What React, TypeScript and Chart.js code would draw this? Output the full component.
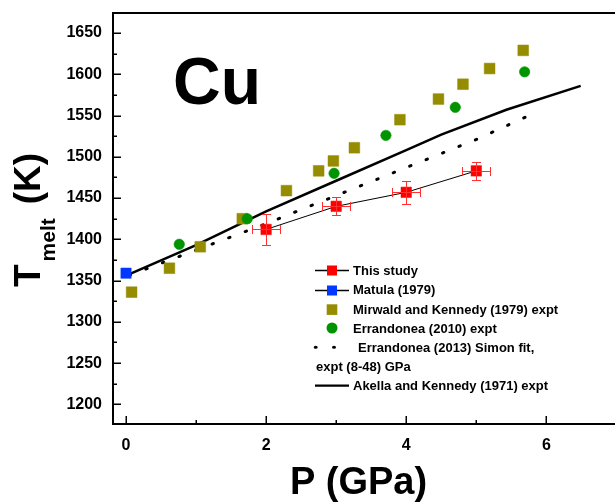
import React, { useEffect, useRef } from 'react';
import { Chart, registerables } from 'chart.js';

Chart.register(...registerables);

// ---------- data ----------
const thisStudyP = [2, 3, 4, 5];
const thisStudyT = [1412, 1440, 1457, 1483];
const thisStudyPErr = [0.2, 0.2, 0.2, 0.2];
const thisStudyTErr = [19, 11, 14, 11];

const matulaP = [0];
const matulaT = [1359];

const mirwaldP = [0.08, 0.62, 1.06, 1.66, 2.29, 2.75, 2.96, 3.26, 3.91, 4.46, 4.81, 5.19, 5.67];
const mirwaldT = [1336, 1365, 1391, 1425, 1459, 1483, 1495, 1511, 1545, 1570, 1588, 1607, 1629];

const errandonea2010P = [0.76, 1.73, 2.97, 3.71, 4.7, 5.69];
const errandonea2010T = [1394, 1425, 1480, 1526, 1560, 1603];

const simonP = [0, 1, 2, 3, 4, 5, 5.7];
const simonT = [1355, 1387, 1419, 1453, 1487, 1521, 1548];

const akellaP = [0, 1, 2, 3, 4, 4.5, 5.43, 6.49];
const akellaT = [1356, 1393, 1434, 1471, 1508, 1527, 1557, 1586];

const xMajorTicks = [0, 2, 4, 6];
const xMinorTicks = [1, 3, 5];
const yMajorTicks = [1200, 1250, 1300, 1350, 1400, 1450, 1500, 1550, 1600, 1650];
const yMinorTicks = [1225, 1275, 1325, 1375, 1425, 1475, 1525, 1575, 1625];

const legendLabels = [
  'This study',
  'Matula (1979)',
  'Mirwald and Kennedy (1979) expt',
  'Errandonea (2010) expt',
  'Errandonea (2013) Simon fit,',
  'Akella and Kennedy (1971) expt',
];
const legendSecondLine = 'expt (8-48) GPa';
const annotationText = 'Cu';
const xTitle = 'P (GPa)';

const RED = '#FF0000';
const ERR_RED = '#FF3030';
const BLUE = '#0038FF';
const OLIVE = '#968C00';
const GREEN = '#009400';
const FONT = '"Liberation Sans", Arial, Helvetica, sans-serif';

const pts = (xs: number[], ys: number[]) => xs.map((x, i) => ({ x, y: ys[i] }));

const zeroPad = (scale: any) => {
  scale.paddingTop = 0;
  scale.paddingBottom = 0;
  scale.paddingLeft = 0;
  scale.paddingRight = 0;
};

const decorPlugin = {
  id: 'decor',
  afterDatasetsDraw(chart: any) {
    const ctx = chart.ctx as CanvasRenderingContext2D;
    const xs = chart.scales.x;
    const ys = chart.scales.y;
    // error bars for "This study"
    ctx.save();
    ctx.strokeStyle = ERR_RED;
    ctx.lineWidth = 1;
    thisStudyP.forEach((p, i) => {
      const cx = Math.round(xs.getPixelForValue(p)) + 0.5;
      const cy = Math.round(ys.getPixelForValue(thisStudyT[i])) + 0.5;
      const yTop = Math.round(ys.getPixelForValue(thisStudyT[i] + thisStudyTErr[i])) + 0.5;
      const yBot = Math.round(ys.getPixelForValue(thisStudyT[i] - thisStudyTErr[i])) + 0.5;
      const xL = Math.round(xs.getPixelForValue(p - thisStudyPErr[i])) + 0.5;
      const xR = Math.round(xs.getPixelForValue(p + thisStudyPErr[i])) + 0.5;
      ctx.beginPath();
      ctx.moveTo(cx, yTop);
      ctx.lineTo(cx, yBot);
      ctx.moveTo(cx - 4.5, yTop);
      ctx.lineTo(cx + 4.5, yTop);
      ctx.moveTo(cx - 4.5, yBot);
      ctx.lineTo(cx + 4.5, yBot);
      ctx.moveTo(xL, cy);
      ctx.lineTo(xR, cy);
      ctx.moveTo(xL, cy - 4.5);
      ctx.lineTo(xL, cy + 4.5);
      ctx.moveTo(xR, cy - 4.5);
      ctx.lineTo(xR, cy + 4.5);
      ctx.stroke();
    });
    ctx.restore();
  },
  afterDraw(chart: any) {
    const ctx = chart.ctx as CanvasRenderingContext2D;
    const a = chart.chartArea;
    const xs = chart.scales.x;
    const ys = chart.scales.y;
    ctx.save();
    // axes frame
    ctx.strokeStyle = '#000';
    ctx.lineWidth = 2;
    ctx.beginPath();
    ctx.moveTo(a.left + 1, a.top);
    ctx.lineTo(a.left + 1, a.bottom);
    ctx.moveTo(a.left, a.bottom - 1);
    ctx.lineTo(a.right, a.bottom - 1);
    ctx.moveTo(a.left, a.top + 1);
    ctx.lineTo(a.right, a.top + 1);
    ctx.stroke();
    // inward ticks
    ctx.lineWidth = 1.5;
    ctx.beginPath();
    xMajorTicks.forEach((v) => {
      const px = Math.round(xs.getPixelForValue(v)) + 0.25;
      ctx.moveTo(px, a.bottom - 1);
      ctx.lineTo(px, a.bottom - 9);
    });
    xMinorTicks.forEach((v) => {
      const px = Math.round(xs.getPixelForValue(v)) + 0.25;
      ctx.moveTo(px, a.bottom - 1);
      ctx.lineTo(px, a.bottom - 5);
    });
    yMajorTicks.forEach((v) => {
      const py = Math.round(ys.getPixelForValue(v)) + 0.25;
      ctx.moveTo(a.left + 1, py);
      ctx.lineTo(a.left + 9, py);
    });
    yMinorTicks.forEach((v) => {
      const py = Math.round(ys.getPixelForValue(v)) + 0.25;
      ctx.moveTo(a.left + 1, py);
      ctx.lineTo(a.left + 5, py);
    });
    ctx.stroke();

    // y title: T_melt (K)
    ctx.fillStyle = '#000';
    ctx.save();
    ctx.translate(40, 287);
    ctx.rotate(-Math.PI / 2);
    ctx.textBaseline = 'alphabetic';
    ctx.textAlign = 'left';
    ctx.font = `bold 37px ${FONT}`;
    ctx.fillText('T', 0, 0);
    const wT = ctx.measureText('T').width;
    ctx.font = `bold 21px ${FONT}`;
    ctx.fillText('melt', wT + 3, 15);
    const wM = ctx.measureText('melt').width;
    ctx.font = `bold 37px ${FONT}`;
    ctx.fillText('(K)', wT + 3 + wM + 14, 0);
    ctx.restore();

    // x title
    ctx.font = `bold 38px ${FONT}`;
    ctx.textAlign = 'center';
    ctx.textBaseline = 'alphabetic';
    ctx.fillText(xTitle, 358.5, 494);

    // Cu annotation
    ctx.font = `bold 66px ${FONT}`;
    ctx.textAlign = 'left';
    ctx.fillText(annotationText, 173, 104);

    // legend
    const baselines = [275, 294.3, 314.3, 332.7, 352, 371.3, 390.3];
    const symX = 332;
    ctx.font = `bold 13px ${FONT}`;
    ctx.textAlign = 'left';
    ctx.fillStyle = '#000';
    ctx.fillText(legendLabels[0], 353, baselines[0]);
    ctx.fillText(legendLabels[1], 353, baselines[1]);
    ctx.fillText(legendLabels[2], 353, baselines[2]);
    ctx.fillText(legendLabels[3], 353, baselines[3]);
    ctx.fillText(legendLabels[4], 358, baselines[4]);
    ctx.fillText(legendSecondLine, 316, baselines[5]);
    ctx.fillText(legendLabels[5], 353, baselines[6]);

    const cyOf = (i: number) => baselines[i] - 4.7;
    // this study & matula: line + square
    [RED, BLUE].forEach((col, i) => {
      const cy = Math.round(cyOf(i)) + 0.5;
      ctx.strokeStyle = '#000';
      ctx.lineWidth = 1.3;
      ctx.beginPath();
      ctx.moveTo(315, cy);
      ctx.lineTo(349, cy);
      ctx.stroke();
      ctx.fillStyle = col;
      ctx.fillRect(symX - 5, cy - 5, 10, 10);
    });
    // olive square
    ctx.fillStyle = OLIVE;
    ctx.fillRect(symX - 5.3, cyOf(2) - 5.3, 10.6, 10.6);
    // green circle
    ctx.fillStyle = GREEN;
    ctx.beginPath();
    ctx.arc(symX, cyOf(3), 5.5, 0, Math.PI * 2);
    ctx.fill();
    // dashes
    ctx.fillStyle = '#000';
    ctx.beginPath();
    ctx.ellipse(315.7, cyOf(4), 2, 1.5, 0, 0, Math.PI * 2);
    ctx.ellipse(334, cyOf(4), 2, 1.5, 0, 0, Math.PI * 2);
    ctx.fill();
    // solid line
    ctx.strokeStyle = '#000';
    ctx.lineWidth = 2.3;
    ctx.beginPath();
    ctx.moveTo(315, cyOf(6));
    ctx.lineTo(349, cyOf(6));
    ctx.stroke();
    ctx.restore();
  },
};

export default function App() {
  const ref = useRef<HTMLCanvasElement>(null);
  useEffect(() => {
    if (!ref.current) return;
    const tickFont = { family: FONT, size: 16, weight: 'bold' as const };
    const chart = new Chart(ref.current, {
      type: 'scatter',
      data: {
        datasets: [
          {
            label: legendLabels[0],
            data: pts(thisStudyP, thisStudyT),
            showLine: true,
            borderColor: '#000',
            borderWidth: 1,
            pointStyle: 'rect',
            pointRadius: 7.4,
            pointBackgroundColor: RED,
            pointBorderColor: RED,
            pointBorderWidth: 0.5,
          },
          {
            label: legendLabels[1],
            data: pts(matulaP, matulaT),
            showLine: false,
            pointStyle: 'rect',
            pointRadius: 7.3,
            pointBackgroundColor: BLUE,
            pointBorderColor: BLUE,
            pointBorderWidth: 0.5,
          },
          {
            label: legendLabels[3],
            data: pts(errandonea2010P, errandonea2010T),
            showLine: false,
            pointStyle: 'circle',
            pointRadius: 5.2,
            pointBackgroundColor: GREEN,
            pointBorderColor: GREEN,
            pointBorderWidth: 0.6,
          },
          {
            label: legendLabels[2],
            data: pts(mirwaldP, mirwaldT),
            showLine: false,
            pointStyle: 'rect',
            pointRadius: 7.6,
            pointBackgroundColor: OLIVE,
            pointBorderColor: OLIVE,
            pointBorderWidth: 0.5,
          },
          {
            label: legendLabels[5],
            data: pts(akellaP, akellaT),
            showLine: true,
            borderColor: '#000',
            borderWidth: 2.5,
            pointRadius: 0,
          },
          {
            label: legendLabels[4],
            data: pts(simonP, simonT),
            showLine: true,
            borderColor: '#000',
            borderWidth: 3,
            borderDash: [1.5, 16.2],
            borderDashOffset: 14.3,
            borderCapStyle: 'round',
            pointRadius: 0,
          },
        ],
      },
      options: {
        animation: false,
        responsive: false,
        devicePixelRatio: 1,
        events: [],
        layout: { autoPadding: false, padding: { top: 12, left: 0, right: 0, bottom: 0 } },
        plugins: {
          legend: { display: false },
          title: { display: false },
          tooltip: { enabled: false },
        },
        scales: {
          x: {
            type: 'linear',
            min: -0.2,
            max: 6.98,
            afterBuildTicks: (scale: any) => {
              scale.ticks = xMajorTicks.map((v) => ({ value: v }));
            },
            afterFit: (scale: any) => {
              scale.height = 77;
              zeroPad(scale);
            },
            grid: { display: false, drawTicks: false },
            border: { display: false },
            ticks: {
              font: tickFont,
              color: '#000',
              padding: 11,
              maxRotation: 0,
              autoSkip: false,
              callback: (v: any) => String(v),
            },
          },
          y: {
            type: 'linear',
            min: 1175,
            max: 1675.5,
            afterBuildTicks: (scale: any) => {
              scale.ticks = yMajorTicks.map((v) => ({ value: v }));
            },
            afterFit: (scale: any) => {
              scale.width = 112;
              zeroPad(scale);
            },
            grid: { display: false, drawTicks: false },
            border: { display: false },
            ticks: {
              font: tickFont,
              color: '#000',
              padding: 10,
              autoSkip: false,
              callback: (v: any) => String(v),
            },
          },
        },
      },
      plugins: [decorPlugin],
    } as any);
    return () => chart.destroy();
  }, []);
  return (
    <div
      style={{
        position: 'fixed',
        left: 0,
        top: 0,
        width: 615,
        height: 502,
        background: '#fff',
        overflow: 'hidden',
      }}
    >
      <canvas ref={ref} width={615} height={502} style={{ display: 'block', width: 615, height: 502 }} />
    </div>
  );
}
